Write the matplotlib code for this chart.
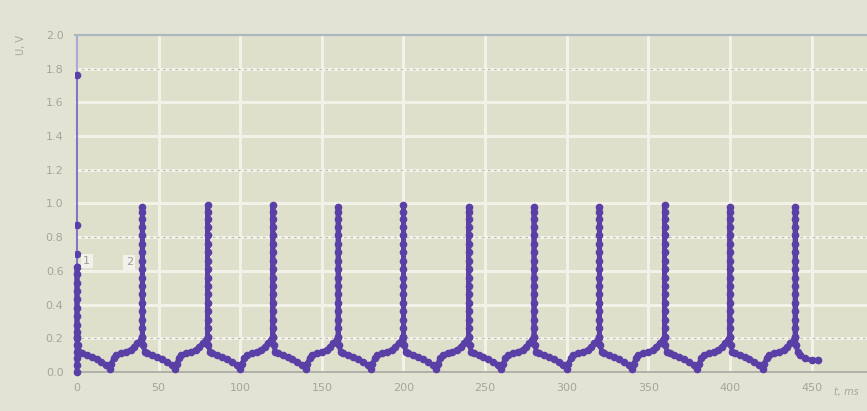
import numpy as np
import matplotlib.pyplot as plt

# spike moments (ms) and peak voltages
spike_t = [0, 40, 80, 120, 160, 200, 240, 280, 320, 360, 400, 440]
peak_u = [0.62, 0.98, 0.99, 0.99, 0.98, 0.99, 0.98, 0.98, 0.98, 0.99, 0.98, 0.98]

# sparse points on the first (tall) spike above the dense part
first_top_u = [0.62, 0.7, 0.87, 1.76]

# points sampled along the rising edge of a spike
spike_levels = [0.21, 0.26, 0.31, 0.36, 0.41, 0.46, 0.51, 0.56, 0.61, 0.66, 0.71, 0.76, 0.81, 0.86, 0.91, 0.95]
first_levels = [0.0, 0.04, 0.08, 0.12, 0.16, 0.2, 0.24, 0.28, 0.33, 0.38, 0.43, 0.48, 0.53, 0.58]

# shape of the curve between two spikes (offset from the spike, value)
gap_dt = [0.5, 1.5, 3, 6, 9, 12, 15, 18, 20, 21, 22.5, 24, 27, 30, 33, 35, 37, 39]
gap_u = [0.16, 0.12, 0.11, 0.1, 0.09, 0.075, 0.06, 0.04, 0.02, 0.05, 0.08, 0.1, 0.11, 0.12, 0.13, 0.15, 0.17, 0.19]

# tail after the last spike
tail_dt = [0.5, 1.5, 3, 6, 10, 14]
tail_u = [0.16, 0.12, 0.1, 0.08, 0.07, 0.07]

t, u = [], []
for i, (ts, pk) in enumerate(zip(spike_t, peak_u)):
    levels = first_levels if i == 0 else spike_levels
    for lv in levels:
        t.append(ts)
        u.append(lv)
    t.append(ts)
    u.append(pk)
    t.append(ts)
    u.append(0.21)
    last = i == len(spike_t) - 1
    dts, vals = (tail_dt, tail_u) if last else (gap_dt, gap_u)
    for dt, v in zip(dts, vals):
        t.append(ts + dt)
        u.append(v)

bg = "#dfe0cb"
fig = plt.figure(figsize=(8.67, 4.11), dpi=100, facecolor="#e2e3d3")
ax = fig.add_axes([0.086, 0.095, 0.914, 0.82], facecolor=bg)

for yv in np.arange(0.2, 2.0, 0.2):
    ax.axhline(yv, color="#f2f2e8", lw=2.2, zorder=1)
for xv in range(50, 500, 50):
    ax.axvline(xv, color="#f2f2e8", lw=2.2, zorder=1)
for yv in [1.8, 1.2, 0.8, 0.2]:
    ax.axhline(yv, color="#b9bab0", lw=0.9, ls=(0, (2, 3)), zorder=1.5)

ax.axvline(0, color="#aea6dc", lw=1.5, zorder=2)
ax.plot([spike_t[0]] * len(first_top_u), first_top_u, color="#7d6cc4", lw=1.2,
        marker="o", ms=4.5, mfc="#5a3fa6", mec="#5a3fa6", zorder=3)
ax.plot(t, u, color="#5a3fa6", lw=3.4, marker="o", ms=4.5, zorder=3,
        clip_on=False, solid_joinstyle="round")

ax.text(6, 0.66, "1", fontsize=8, color="#9a9a9a", ha="center", va="center",
        bbox=dict(boxstyle="square,pad=0.2", fc="#f2f2ea", ec="none"), zorder=4)
ax.text(32, 0.65, "2", fontsize=8, color="#9a9a9a", ha="center", va="center",
        bbox=dict(boxstyle="square,pad=0.2", fc="#f2f2ea", ec="none"), zorder=4)

ax.set_xlim(-1.5, 484)
ax.set_ylim(0, 2.0)
ax.set_xticks(range(0, 500, 50))
ax.set_yticks(np.round(np.arange(0, 2.01, 0.2), 1))
ax.set_yticklabels([f"{v:.1f}" for v in np.arange(0, 2.01, 0.2)])
ax.tick_params(length=0, colors="#a5a697", labelsize=8, pad=8)

for side in ["left", "right"]:
    ax.spines[side].set_visible(False)
ax.spines["top"].set_color("#a9b9c2")
ax.spines["top"].set_linewidth(1.6)
ax.spines["bottom"].set_color("#a7a8a4")
ax.spines["bottom"].set_linewidth(1.2)

fig.text(0.962, 0.04, "t, ms", fontsize=7, color="#a5a697", style="italic")
fig.text(0.018, 0.87, "U, V", fontsize=7, color="#a5a697", rotation=90)

fig.savefig("out.png", dpi=100, facecolor=fig.get_facecolor())
